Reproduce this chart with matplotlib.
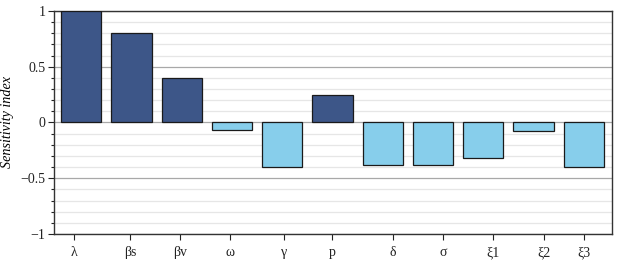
import matplotlib
matplotlib.use("Agg")
import matplotlib.pyplot as plt
import numpy as np
from matplotlib.ticker import MultipleLocator

labels = ["λ", "βs", "βv", "ω", "γ", "p", "δ", "σ", "ξ1", "ξ2", "ξ3"]
values = [1.0, 0.80, 0.40, -0.07, -0.40, 0.25, -0.38, -0.38, -0.32, -0.08, -0.40]
tick_positions = [0.85, 1.97, 2.96, 3.97, 5.03, 6.0, 7.2, 8.2, 9.19, 10.2, 11.0]

plt.rcParams['font.family'] = ['Liberation Serif', 'DejaVu Serif']

fig = plt.figure(figsize=(6.33, 2.65), dpi=100)
ax = fig.add_axes([0.0853, 0.117, 0.8815, 0.8415])

x = np.arange(1, len(values) + 1)
colors = ["#3D5688" if v > 0 else "#87CEEB" for v in values]
ax.bar(x, values, width=0.8, color=colors, edgecolor="#1a1a1a", linewidth=0.9, zorder=3)

ax.set_xlim(0.46, 11.56)
ax.set_ylim(-1, 1)
ax.yaxis.set_major_locator(MultipleLocator(0.5))
ax.yaxis.set_minor_locator(MultipleLocator(0.1))
ax.set_yticks([-1, -0.5, 0, 0.5, 1])
ax.set_yticklabels(["−1", "−0.5", "0", "0.5", "1"])
ax.grid(axis='y', which='major', color='#a8a8a8', linewidth=0.9, zorder=0)
ax.grid(axis='y', which='minor', color='#e6e6e6', linewidth=0.9, zorder=0)

ax.set_xticks(tick_positions)
ax.set_xticklabels(labels)
ax.tick_params(axis='both', which='both', direction='out', labelsize=10, colors='#222222')
ax.tick_params(axis='y', which='major', length=4, width=0.8, pad=2)
ax.tick_params(axis='y', which='minor', length=2.5, width=0.8)
ax.tick_params(axis='x', which='major', length=4, width=0.8, pad=5)

for s in ax.spines.values():
    s.set_color('#333333')
    s.set_linewidth(1.0)

ax.set_ylabel("Sensitivity index", fontstyle='italic', fontsize=10.2)
ax.yaxis.set_label_coords(-0.071, 0.5)

fig.savefig("out.png", dpi=100)
